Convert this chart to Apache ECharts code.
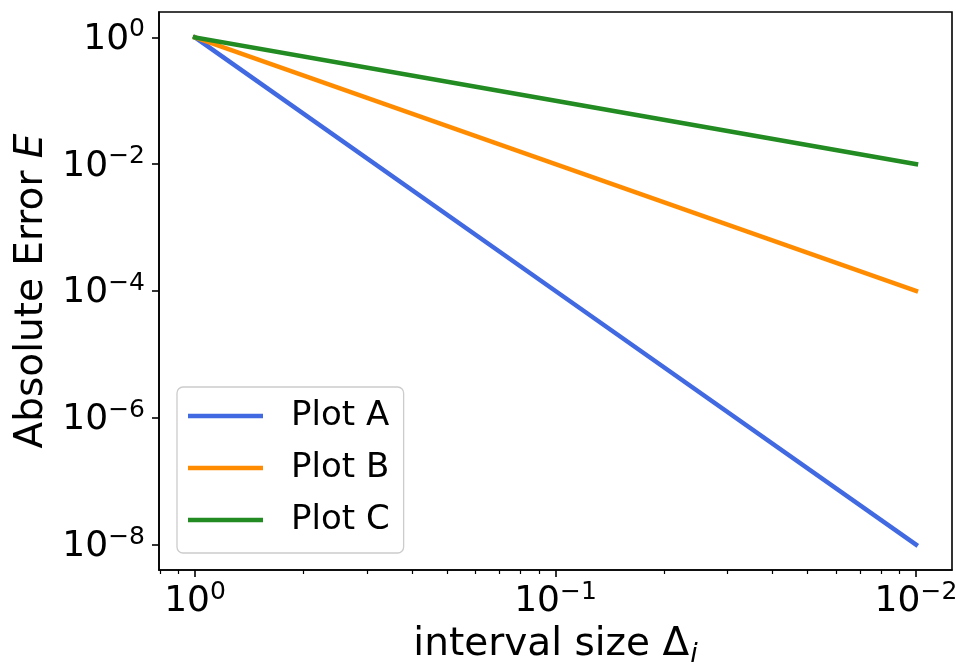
<!DOCTYPE html>
<html><head><meta charset="utf-8">
<script src="https://cdn.jsdelivr.net/npm/echarts@6/dist/echarts.min.js"></script>
<style>html,body{margin:0;padding:0;background:#fff}#c{width:956px;height:662px}</style>
</head><body><div id="c"></div>
<script>
// ---- data ----
const intervalSizes = [1, 0.1, 0.01];
const plotA = [1, 1e-4, 1e-8];
const plotB = [1, 1e-2, 1e-4];
const plotC = [1, 1e-1, 1e-2];
const seriesNames = ['Plot A', 'Plot B', 'Plot C'];
const seriesColors = ['#4169E1', '#FF8C00', '#228B22'];
const xMajorTicks = [1, 0.1, 0.01];
const xMinorTickN = [0.8, 0.9, 2, 3, 4, 5, 6, 7, 8, 9, 20, 30, 40, 50, 60, 70, 80, 90];
const yMajorTicks = [1, 1e-2, 1e-4, 1e-6, 1e-8];

const FONT = 'DejaVu Sans';
const xMinorTicks = xMinorTickN.map(n => 1 / n);
const xMin = Math.pow(10, -2.1), xMax = Math.pow(10, 0.1);
const yMin = Math.pow(10, -8.4), yMax = Math.pow(10, 0.4);

function pow10Label(v) {
  const e = Math.round(Math.log10(v));
  const s = e < 0 ? '\u2212' + (-e) : '' + e;
  return '{b|10}{s|' + s + '}';
}
const labelRich = {
  b: { fontSize: 36, fontFamily: FONT, color: '#000', padding: [4, 0, 0, 0] },
  s: { fontSize: 25, fontFamily: FONT, color: '#000', verticalAlign: 'top' }
};

function mk(vals) { return intervalSizes.map((x, i) => [x, vals[i]]); }
const allVals = [plotA, plotB, plotC];

const chart = echarts.init(document.getElementById('c'), null, { renderer: 'canvas' });
chart.setOption({
  animation: false,
  backgroundColor: '#fff',
  grid: {
    left: 159, right: 4, top: 12, bottom: 92,
    show: true, borderColor: '#000', borderWidth: 1.6, backgroundColor: 'transparent',
    outerBoundsMode: 'none', containLabel: false
  },
  legend: {
    orient: 'vertical', left: 177, top: 387,
    icon: 'rect', itemWidth: 75, itemHeight: 4.5, itemGap: 12,
    padding: [9, 14, 13, 11],
    backgroundColor: 'rgba(255,255,255,0.8)', borderColor: '#cccccc', borderWidth: 1.3, borderRadius: 6,
    selectedMode: false,
    textStyle: { fontFamily: FONT, fontSize: 34, color: '#000', lineHeight: 40, padding: [0, 0, 0, 23] },
    data: seriesNames
  },
  xAxis: [{
    type: 'log', logBase: 10, inverse: true, min: xMin, max: xMax, position: 'bottom',
    name: 'interval size \u0394{sub|i}', nameLocation: 'middle', nameGap: 48,
    nameTextStyle: { fontFamily: FONT, fontSize: 39, color: '#000',
      rich: { sub: { fontFamily: FONT, fontSize: 27, fontStyle: 'italic', color: '#000', verticalAlign: 'bottom', padding: [22, 0, 0, 1] } } },
    axisLine: { show: true, lineStyle: { color: '#000', width: 1.6 } },
    axisTick: { show: true, length: 7, lineStyle: { color: '#000', width: 1.6 }, customValues: xMajorTicks },
    axisLabel: { show: true, margin: 10, customValues: xMajorTicks, formatter: pow10Label, rich: labelRich },
    splitLine: { show: false }, minorTick: { show: false }
  }, {
    type: 'log', logBase: 10, inverse: true, min: xMin, max: xMax, position: 'bottom',
    axisLine: { show: false },
    axisTick: { show: true, length: 4, lineStyle: { color: '#000', width: 1.2 }, customValues: xMinorTicks },
    axisLabel: { show: false },
    splitLine: { show: false }
  }],
  yAxis: [{
    type: 'log', logBase: 10, min: yMin, max: yMax, position: 'left',
    name: 'Absolute Error {i|E}', nameLocation: 'middle', nameGap: 104,
    nameTextStyle: { fontFamily: FONT, fontSize: 39, color: '#000',
      rich: { i: { fontFamily: FONT, fontSize: 39, fontStyle: 'italic', color: '#000' } } },
    axisLine: { show: true, lineStyle: { color: '#000', width: 1.6 } },
    axisTick: { show: true, length: 7, lineStyle: { color: '#000', width: 1.6 }, customValues: yMajorTicks },
    axisLabel: { show: true, margin: 14, customValues: yMajorTicks, formatter: pow10Label, rich: labelRich },
    splitLine: { show: false }, minorTick: { show: false }
  }],
  series: seriesNames.map((name, i) => ({
    name: name, type: 'line', xAxisIndex: 0, yAxisIndex: 0,
    data: mk(allVals[i]),
    symbol: 'none', showSymbol: false,
    lineStyle: { color: seriesColors[i], width: 4.5, cap: 'square' },
    itemStyle: { color: seriesColors[i] },
    emphasis: { disabled: true }
  }))
});
</script>
</body></html>
